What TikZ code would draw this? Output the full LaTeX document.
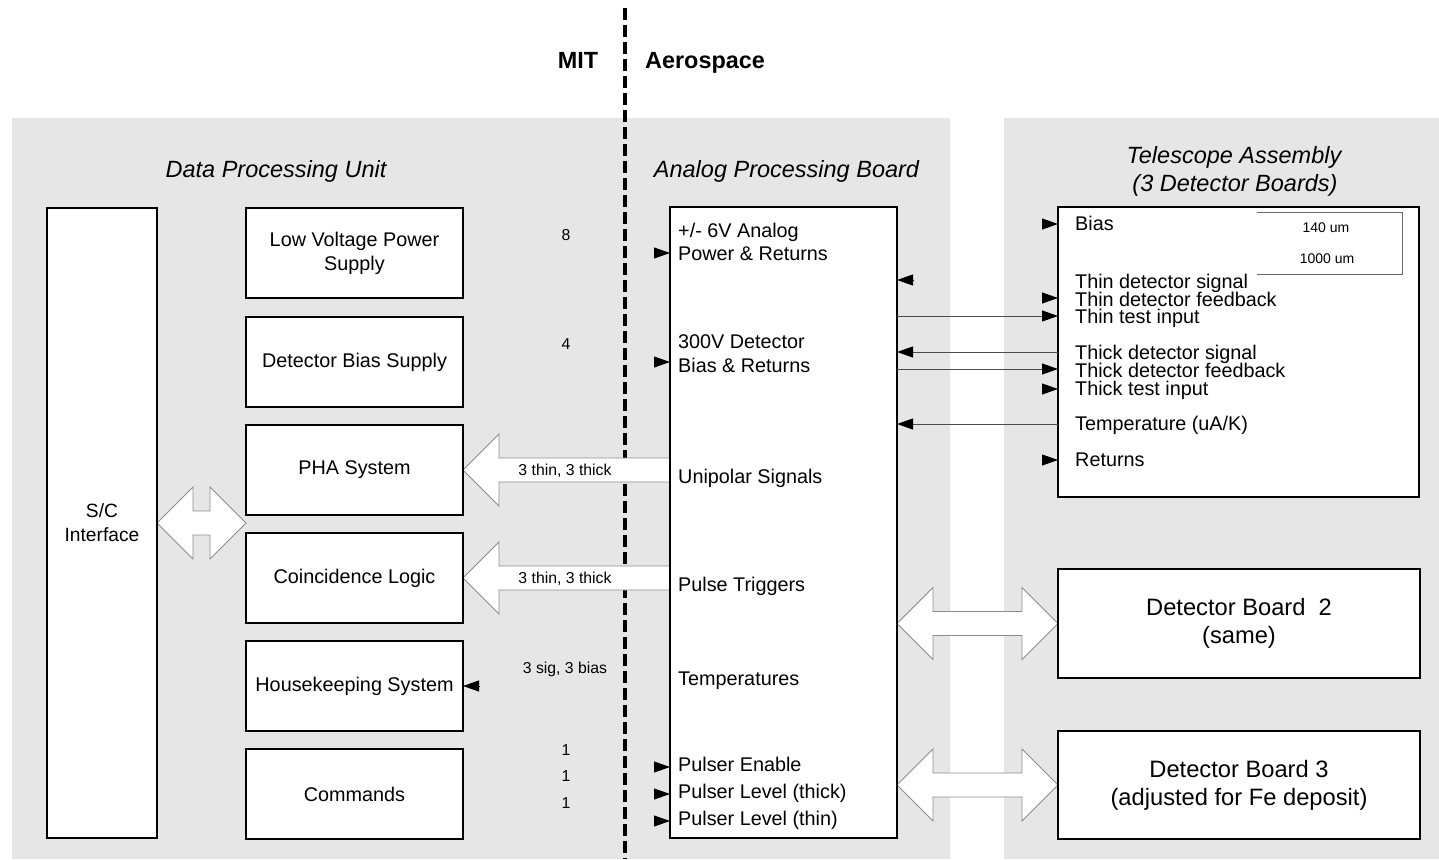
\documentclass[tikz,border=0pt]{standalone}
\usepackage{fontspec}
\setmainfont{Liberation Sans}
\usetikzlibrary{calc,arrows.meta}
\pgfdeclarelayer{bg}\pgfdeclarelayer{mid}\pgfsetlayers{bg,mid,main}
\definecolor{panelgray}{RGB}{230,230,230}
\newcommand\dblhollow[2]{%
  \path[hollow] (#1) -- ++(36,-36) -- ++(0,24) -- ($(#2)+(-36,-12)$) -- ++(0,-24)
    -- (#2) -- ++(-36,36) -- ++(0,-24) -- ($(#1)+(36,12)$) -- ++(0,24) -- cycle;}
\newcommand\lefthollow[2]{%
  \path[hollow] (#1) -- ++(36,-36) -- ++(0,24) -- ($(#2)+(0,-12)$)
    -- ($(#2)+(0,12)$) -- ($(#1)+(36,12)$) -- ++(0,24) -- cycle;}
\begin{document}
\begin{tikzpicture}[x=1pt,y=-1pt,
  box/.style={draw, line width=2.2pt, fill=white, inner sep=0pt, outer sep=0pt,
    align=center, font=\fontsize{19.8}{24}\selectfont},
  body/.style={font=\fontsize{19.8}{24}\selectfont, inner sep=0pt},
  hdr/.style={font=\fontsize{23.5}{28}\selectfont\itshape, inner sep=0pt, anchor=base},
  lbl/.style={font=\fontsize{15.8}{19}\selectfont, inner sep=0pt, anchor=base},
  tinylbl/.style={font=\fontsize{14}{17}\selectfont, inner sep=0pt, anchor=base},
  org/.style={font=\fontsize{23.4}{28}\selectfont\bfseries, inner sep=0pt},
  hollow/.style={fill=white, draw=black!45, line width=0.8pt, line join=miter},
  tiponly/.style={line width=0.8pt, -{Triangle[length=16pt,width=11pt]}},
  sig/.style={draw=black!70, line width=0.9pt, -{Triangle[length=16pt,width=11pt,color=black]}},
  divider/.style={line width=3.5pt, dash pattern=on 12pt off 5pt}
]
\useasboundingbox (0,0) rectangle (1439,859);

% ---------- boxes ----------
\node[box, font=\fontsize{19.2}{24}\selectfont, minimum width=110pt, minimum height=630pt] (sci) at (102,523) {S/C\\Interface};
\node[box, minimum width=217pt, minimum height=90pt] (lvps) at (354.5,253) {Low Voltage Power\\Supply};
\node[box, minimum width=217pt, minimum height=90pt] (dbs) at (354.5,362) {Detector Bias Supply};
\node[box, minimum width=217pt, minimum height=90pt] (pha) at (354.5,470) {PHA System};
\node[box, minimum width=217pt, minimum height=90pt] (coin) at (354.5,578) {Coincidence Logic};
\node[box, minimum width=217pt, minimum height=90pt] (hk) at (354.5,686) {Housekeeping System};
\node[box, minimum width=217pt, minimum height=90pt] (cmd) at (354.5,794) {Commands};
\node[box, minimum width=227pt, minimum height=631pt] (apb) at (783.5,522.5) {};
\node[box, minimum width=361pt, minimum height=290pt] (tele) at (1238.5,352) {};
\node[box, font=\fontsize{23.7}{28}\selectfont, minimum width=362pt, minimum height=109pt] (db2) at (1239,623.5) {Detector Board~~2\\(same)};
\node[box, font=\fontsize{23.7}{28}\selectfont, minimum width=362pt, minimum height=108pt] (db3) at (1239,785) {Detector Board 3\\(adjusted for Fe deposit)};

% ---------- background panels and divider ----------
\begin{pgfonlayer}{bg}
  \fill[panelgray] (12,118) rectangle (950,859);
  \fill[panelgray] (1004,118) rectangle (1439,859);
  \draw[divider] (625,8) -- (625,859);
\end{pgfonlayer}

% ---------- hollow arrows ----------
\coordinate (sciR) at (pha.west |- sci.east);
\coordinate (phaT) at (apb.west |- pha.east);
\coordinate (coinT) at (apb.west |- coin.east);
\coordinate (db2L) at (apb.east |- db2.west);
\coordinate (db3L) at (apb.east |- db3.west);
\begin{pgfonlayer}{mid}
  \dblhollow{sci.east}{sciR}
  \lefthollow{pha.east}{phaT}
  \lefthollow{coin.east}{coinT}
  \dblhollow{db2L}{db2.west}
  \dblhollow{db3L}{db3.west}
\end{pgfonlayer}

% ---------- headers ----------
\node[org, anchor=base] (mit) at (578,68) {MIT};
\node[org, anchor=base west] (aero) at (645,68) {Aerospace};
\node[hdr] (hdpu) at (276,177.5) {Data Processing Unit};
\node[hdr] (hapb) at (786.5,177.5) {Analog Processing Board};
\node[hdr] (htel1) at (1234,163.5) {Telescope Assembly};
\node[hdr] (htel2) at (1235,191.5) {(3 Detector Boards)};

% ---------- small labels ----------
\node[lbl] (n8) at (566,240) {8};
\node[lbl] (n4) at (566,349) {4};
\node[lbl] (lpha) at (565,475) {3 thin, 3 thick};
\node[lbl] (lcoin) at (565,583) {3 thin, 3 thick};
\node[lbl] (lhk) at (565,673.5) {3 sig, 3 bias};
\node[lbl] (n1a) at (566,755) {1};
\node[lbl] (n1b) at (566,781.5) {1};
\node[lbl] (n1c) at (566,808) {1};

% ---------- APB texts ----------
\node[body, anchor=base west] (a1) at (678,237) {+/- 6V Analog};
\node[body, anchor=base west] (a2) at (678,260) {Power \& Returns};
\node[body, anchor=base west] (a3) at (678,348) {300V Detector};
\node[body, anchor=base west] (a4) at (678,372) {Bias \& Returns};
\node[body, anchor=base west] (a5) at (678,483) {Unipolar Signals};
\node[body, anchor=base west] (a6) at (678,591) {Pulse Triggers};
\node[body, anchor=base west] (a7) at (678,685) {Temperatures};
\node[body, anchor=base west] (a8) at (678,771) {Pulser Enable};
\node[body, anchor=base west] (a9) at (678,798.5) {Pulser Level (thick)};
\node[body, anchor=base west] (a10) at (678,825.5) {Pulser Level (thin)};

% ---------- Telescope texts ----------
\node[body, anchor=base west] (t1) at (1075,230.5) {Bias};
\node[body, anchor=base west] (t2) at (1075,288) {Thin detector signal};
\node[body, anchor=base west] (t3) at (1075,306) {Thin detector feedback};
\node[body, anchor=base west] (t4) at (1075,323.5) {Thin test input};
\node[body, anchor=base west] (t5) at (1075,359.5) {Thick detector signal};
\node[body, anchor=base west] (t6) at (1075,377.5) {Thick detector feedback};
\node[body, anchor=base west] (t7) at (1075,395.5) {Thick test input};
\node[body, anchor=base west] (t8) at (1075,430.5) {Temperature (uA/K)};
\node[body, anchor=base west] (t9) at (1075,466.5) {Returns};
\draw[black!60, line width=0.8pt] (1257,212) -- (1402,212) -- (1402,274) -- (1257,274);
\node[tinylbl] (u140) at (1326,232) {140 um};
\node[tinylbl] (u1000) at (1327,263) {1000 um};

% ---------- small arrowheads ----------
\coordinate (pA) at (654,253);
\coordinate (pB) at (654,362);
\coordinate (pC) at (654,767);
\coordinate (pD) at (654,794);
\coordinate (pE) at (654,821);
\draw[tiponly] (pA) -- (apb.west |- pA);
\draw[tiponly] (pB) -- (apb.west |- pB);
\draw[tiponly] (pC) -- (apb.west |- pC);
\draw[tiponly] (pD) -- (apb.west |- pD);
\draw[tiponly] (pE) -- (apb.west |- pE);
\coordinate (tdsig) at (913,280);
\draw[tiponly] (tdsig) -- (apb.east |- tdsig);
\coordinate (hkin) at (479,686);
\draw[tiponly] (hkin) -- (hk.east);
\coordinate (rBias) at (1042,224);
\coordinate (rThinFb) at (1042,298);
\coordinate (rThickTi) at (1042,389);
\coordinate (rRet) at (1042,460);
\draw[tiponly] (rBias) -- (tele.west |- rBias);
\draw[tiponly] (rThinFb) -- (tele.west |- rThinFb);
\draw[tiponly] (rThickTi) -- (tele.west |- rThickTi);
\draw[tiponly] (rRet) -- (tele.west |- rRet);

% ---------- signal connectors ----------
\coordinate (rThinTi) at (1058,316);
\coordinate (rThickSig) at (1058,352);
\coordinate (rThickFb) at (1058,369);
\coordinate (rTemp) at (1058,424);
\draw[sig] (apb.east |- rThinTi) -- (tele.west |- rThinTi);
\draw[sig] (tele.west |- rThickSig) -- (apb.east |- rThickSig);
\draw[sig] (apb.east |- rThickFb) -- (tele.west |- rThickFb);
\draw[sig] (tele.west |- rTemp) -- (apb.east |- rTemp);
\end{tikzpicture}
\end{document}
